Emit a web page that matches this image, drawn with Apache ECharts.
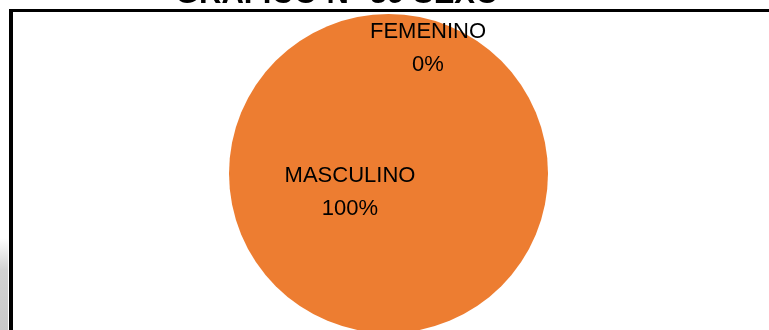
<!DOCTYPE html>
<html>
<head>
<meta charset="utf-8">
<script src="https://cdn.jsdelivr.net/npm/echarts@6/dist/echarts.min.js"></script>
<style>
  html, body { margin: 0; padding: 0; background: #fff; }
  #chart { width: 769px; height: 330px; }
</style>
</head>
<body>
<div id="chart"></div>
<script>
// Distribution by sex
const categories = ['MASCULINO', 'FEMENINO'];
const values = [100, 0];
const colors = ['#ED7D31', '#5B9BD5'];
const chartTitle = 'GRÁFICO N° 39 SEXO';

// label anchor points (block centre) per category
const labelSpots = [
  { x: 350, y: 192 },
  { x: 428, y: 48 }
];

const chart = echarts.init(document.getElementById('chart'), null, { renderer: 'canvas' });

const option = {
  animation: false,
  backgroundColor: '#ffffff',
  graphic: [
    {
      type: 'rect',
      silent: true,
      z: 0,
      shape: { x: 0, y: 238, width: 8, height: 92 },
      style: {
        fill: new echarts.graphic.LinearGradient(0, 0, 0, 1, [
          { offset: 0, color: '#ffffff' },
          { offset: 0.35, color: '#d2d2d2' },
          { offset: 1, color: '#c8c8c8' }
        ])
      }
    },
    {
      type: 'line',
      silent: true,
      z: 10,
      shape: { x1: 9, y1: 10.5, x2: 769, y2: 10.5 },
      style: { stroke: '#000', lineWidth: 3 }
    },
    {
      type: 'line',
      silent: true,
      z: 10,
      shape: { x1: 11, y1: 9, x2: 11, y2: 330 },
      style: { stroke: '#000', lineWidth: 4 }
    },
    {
      type: 'text',
      silent: true,
      z: 10,
      style: {
        text: chartTitle,
        x: 337,
        y: 9.5,
        align: 'center',
        verticalAlign: 'bottom',
        font: 'bold 31px "Liberation Sans", Arial, sans-serif',
        fill: '#000'
      }
    }
  ],
  series: [
    {
      type: 'pie',
      center: [388.5, 173.5],
      radius: [0, 159.5],
      startAngle: 90,
      clockwise: true,
      percentPrecision: 0,
      avoidLabelOverlap: false,
      data: categories.map((name, i) => ({
        name: name,
        value: values[i],
        itemStyle: { color: colors[i] }
      })),
      label: {
        show: true,
        position: 'inside',
        formatter: '{b}\n{d}%',
        color: '#000',
        fontFamily: '"Liberation Sans", Arial, sans-serif',
        fontSize: 22,
        lineHeight: 33,
        align: 'center'
      },
      labelLine: { show: false },
      labelLayout: function (params) {
        const p = labelSpots[params.dataIndex];
        return { x: p.x, y: p.y, align: 'center', verticalAlign: 'middle' };
      },
      emphasis: { disabled: true }
    }
  ]
};

chart.setOption(option);
</script>
</body>
</html>
